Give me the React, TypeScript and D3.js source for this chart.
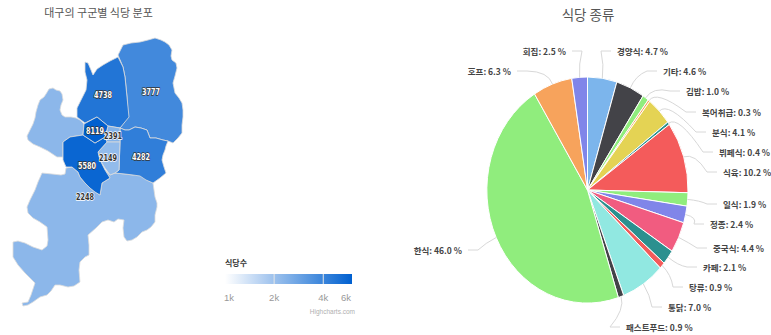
import React from "react";
import * as d3 from "d3";

const WIDTH = 771;
const HEIGHT = 335;
const KR = "'Noto Sans CJK KR', 'Noto Sans', sans-serif";

// Restaurants per district
const districtNames = ["dalseong-west", "dalseong-south", "dongu", "bukgu", "suseong", "seogu-centre", "namgu", "dalseo", "junggu"];
const districtValues = [2248, 2248, 3777, 4738, 4282, 2391, 2149, 5580, 8119];
const districtLabels = [null, "2248", "3777", "4738", "4282", "2391", "2149", "5580", "8119"];

// District outlines in page pixels
const districtOutlines: [number, number][][] = [
  [[53, 88], [56, 90], [60, 91], [62, 94], [63, 100], [61, 105], [60, 110], [62, 115], [65, 117], [71, 117], [76, 118], [80, 120], [84, 124], [83, 135], [70, 137], [63, 142], [63, 157], [57, 157], [48, 151], [40, 147], [33, 144], [28, 140], [27, 136], [30, 130], [33, 124], [35, 118], [36, 112], [38, 105], [40, 100], [44, 97], [46, 94], [49, 89]],
  [[42, 173], [52, 174], [61, 175], [65, 174], [66, 168], [72, 167], [78, 172], [80, 177], [85, 183], [90, 188], [95, 192], [100, 195], [102, 183], [110, 178], [105, 170], [110, 175], [115, 173], [125, 174], [133, 175], [140, 175], [147, 180], [153, 183], [154, 190], [155, 197], [157, 203], [157, 207], [155, 215], [155, 222], [151, 227], [147, 230], [142, 232], [137, 237], [132, 240], [127, 241], [124, 237], [123, 228], [124, 220], [118, 219], [114, 222], [108, 220], [102, 222], [96, 228], [88, 235], [89, 245], [89, 255], [85, 257], [80, 262], [79, 270], [80, 282], [74, 286], [68, 287], [60, 285], [55, 285], [51, 291], [47, 295], [40, 297], [33, 302], [28, 305], [23, 306], [22, 303], [28, 302], [31, 295], [35, 283], [30, 278], [25, 273], [18, 265], [13, 257], [13, 242], [18, 241], [25, 243], [33, 247], [42, 250], [47, 246], [48, 240], [47, 227], [40, 222], [33, 218], [28, 213], [27, 207], [30, 200], [35, 190], [38, 182]],
  [[118, 55], [123, 45], [131, 43], [140, 42], [148, 40], [155, 38], [161, 40], [165, 42], [169, 45], [172, 50], [171, 56], [172, 60], [176, 63], [177, 68], [175, 76], [173, 83], [174, 88], [175, 93], [179, 98], [182, 103], [183, 110], [183, 117], [182, 125], [182, 133], [178, 138], [173, 143], [168, 141], [163, 140], [156, 138], [150, 138], [147, 130], [141, 128], [135, 127], [129, 130], [125, 130], [120, 128], [128, 117], [127, 97], [125, 77], [123, 67]],
  [[85, 62], [88, 63], [91, 70], [93, 75], [97, 69], [103, 65], [110, 61], [118, 57], [123, 67], [125, 77], [127, 97], [129, 117], [120, 128], [108, 126], [97, 117], [85, 123], [77, 117], [77, 108], [81, 100], [86, 90], [87, 80], [85, 72]],
  [[120, 128], [125, 130], [129, 130], [135, 127], [141, 128], [147, 130], [150, 138], [156, 138], [163, 140], [168, 141], [166, 146], [165, 150], [163, 155], [162, 160], [164, 167], [166, 173], [160, 178], [153, 183], [146, 180], [140, 176], [133, 175], [125, 174], [115, 173], [119, 170], [120, 142]],
  [[108, 126], [120, 128], [120, 142], [107, 142], [105, 137]],
  [[107, 142], [120, 142], [119, 170], [115, 173], [110, 175], [105, 168], [100, 160], [98, 152]],
  [[70, 137], [83, 135], [95, 143], [105, 137], [107, 142], [98, 152], [100, 160], [105, 170], [110, 178], [102, 183], [100, 195], [95, 192], [90, 188], [85, 183], [80, 177], [78, 172], [72, 167], [66, 167], [63, 160], [63, 142]],
  [[84, 124], [97, 117], [108, 126], [105, 137], [95, 143], [83, 135]],
];

// Centres of the value labels on the map
const districtLabelSpots: [number, number][] = [[0, 0], [85, 197], [151, 92], [103, 95], [141, 157], [113, 136], [108, 158], [87, 166], [95, 131]];

// Colour axis
const axisMin = 1000;
const axisMax = 6000;
const axisTicks = [1000, 2000, 4000, 6000];
const axisTickNames = ["1k", "2k", "4k", "6k"];

// Restaurant types, share in percent
const typeNames = ["경양식", "기타", "김밥", "복어취급", "분식", "뷔페식", "식육", "일식", "정종", "중국식", "카페", "탕류", "통닭", "패스트푸드", "한식", "호프", "회집"];
const typeShares = [4.7, 4.6, 1.0, 0.3, 4.1, 0.4, 10.2, 1.9, 2.4, 4.4, 2.1, 0.9, 7.0, 0.9, 46.0, 6.3, 2.5];
const typeColors = ["#7cb5ec", "#434348", "#90ed7d", "#f7a35c", "#e4d354", "#2b908f", "#f45b5b", "#90ed7d", "#8085e9", "#f15c80", "#2b908f", "#f45b5b", "#91e8e1", "#434348", "#90ed7d", "#f7a35c", "#8085e9"];

// Where each pie label sits: anchor edge x, vertical centre y
const typeLabelSpots: [number, number][] = [
  [617, 52], [663, 72], [686, 92], [702, 113], [712, 133], [719, 153], [723, 173],
  [723, 205], [710, 225], [713, 249], [703, 268], [689, 288], [668, 308], [626, 328],
  [462, 251], [511, 72], [566, 52],
];

const PIE_CX = 587.5;
const PIE_CY = 190;
const PIE_RX = 100.5;
const PIE_RY = 113;

const colorValue = d3.scaleLog<string>().domain([axisMin, axisMax]).range(["#ffffff", "#0060d0"]).clamp(true);
const legendX = d3.scaleLog().domain([axisMin, axisMax]).range([225, 352]);
const outline = d3.line().curve(d3.curveLinearClosed);

const slices = d3.pie<number>().sort(null).value((d) => d)(typeShares);
const unitArc = d3.arc<d3.PieArcDatum<number>>().innerRadius(0).outerRadius(1);

function labelAngle(i: number) {
  return (slices[i].startAngle + slices[i].endAngle) / 2;
}

function connector(i: number) {
  const a = labelAngle(i);
  const sx = PIE_CX + Math.sin(a) * PIE_RX;
  const sy = PIE_CY - Math.cos(a) * PIE_RY;
  const [lx, ly] = typeLabelSpots[i];
  const onLeft = Math.sin(a) < 0;
  const ex = onLeft ? lx + 6 : lx - 6;
  const ey = ly - 1;
  const cx = PIE_CX + Math.sin(a) * PIE_RX * 1.12;
  const cy = PIE_CY - Math.cos(a) * PIE_RY * 1.12;
  const midX = onLeft ? ex + 10 : ex - 10;
  return `M${sx},${sy}Q${cx},${cy} ${midX},${ey}L${ex},${ey}`;
}

export default function App() {
  const gradientStops = d3.range(0, 1.01, 0.1);
  return (
    <svg width={WIDTH} height={HEIGHT} style={{ position: "absolute", left: 0, top: 0, background: "#fff" }} fontFamily={KR}>
      <defs>
        <linearGradient id="axisFill" x1="0" x2="1" y1="0" y2="0">
          {gradientStops.map((t) => (
            <stop key={t} offset={t} stopColor={d3.interpolateRgb("#ffffff", "#0060d0")(t)} />
          ))}
        </linearGradient>
      </defs>

      <text x={98.5} y={17} textAnchor="middle" fontSize={11} fill="#555">대구의 구군별 식당 분포</text>
      <text x={588} y={20} textAnchor="middle" fontSize={13.5} fill="#555">식당 종류</text>

      <g>
        {districtOutlines.map((pts, i) => (
          <path key={districtNames[i]} d={outline(pts) ?? ""} fill={colorValue(districtValues[i])} stroke="#dcdcdc" strokeWidth={0.8} strokeLinejoin="round" />
        ))}
        {districtLabels.map((t, i) =>
          t ? (
            <text key={t} x={districtLabelSpots[i][0]} y={districtLabelSpots[i][1]} dy="0.35em" textAnchor="middle" fontSize={8} fontWeight={700} fontFamily="'DejaVu Sans', sans-serif"
              fill={districtValues[i] > 3000 ? "#fff" : "#333"} stroke={districtValues[i] > 3000 ? "#333" : "#fff"} strokeWidth={1.4} paintOrder="stroke" textLength={18} lengthAdjust="spacingAndGlyphs">
              {t}
            </text>
          ) : null
        )}
      </g>

      <g>
        <text x={225} y={266} fontSize={8} fontWeight={700} fill="#333">식당수</text>
        <rect x={legendX(axisMin)} y={274} width={legendX(axisMax) - legendX(axisMin)} height={10} fill="url(#axisFill)" />
        {axisTicks.map((v, i) => (
          <g key={v}>
            {i > 0 && i < axisTicks.length - 1 ? (
              <line x1={legendX(v)} x2={legendX(v)} y1={274} y2={284} stroke="#e6e6e6" />
            ) : null}
            <text x={i === 0 ? legendX(v) + 4 : i === axisTicks.length - 1 ? legendX(v) - 6 : legendX(v)} y={300.5} textAnchor="middle" fontSize={9.5} fill="#999" fontFamily="'Liberation Sans', sans-serif">
              {axisTickNames[i]}
            </text>
          </g>
        ))}
        <text x={355} y={314} textAnchor="end" fontSize={6.5} fill="#b0b0b0" fontFamily="'Liberation Sans', sans-serif">Highcharts.com</text>
      </g>

      <g transform={`translate(${PIE_CX},${PIE_CY}) scale(${PIE_RX},${PIE_RY})`}>
        {slices.map((s, i) => (
          <path key={typeNames[i]} d={unitArc(s) ?? ""} fill={typeColors[i]} stroke="#fff" strokeWidth={1} vectorEffect="non-scaling-stroke" strokeLinejoin="round" />
        ))}
      </g>

      <g>
        {typeNames.map((name, i) => (
          <path key={name} d={connector(i)} fill="none" stroke="#d8d8d8" strokeWidth={1} />
        ))}
        {typeNames.map((name, i) => (
          <text key={name} x={typeLabelSpots[i][0]} y={typeLabelSpots[i][1]} dy="0.35em" textAnchor={Math.sin(labelAngle(i)) < 0 ? "end" : "start"} fontSize={8.5} fontWeight={700} fill="#444">
            {`${name}: ${typeShares[i].toFixed(1)} %`}
          </text>
        ))}
      </g>
    </svg>
  );
}
